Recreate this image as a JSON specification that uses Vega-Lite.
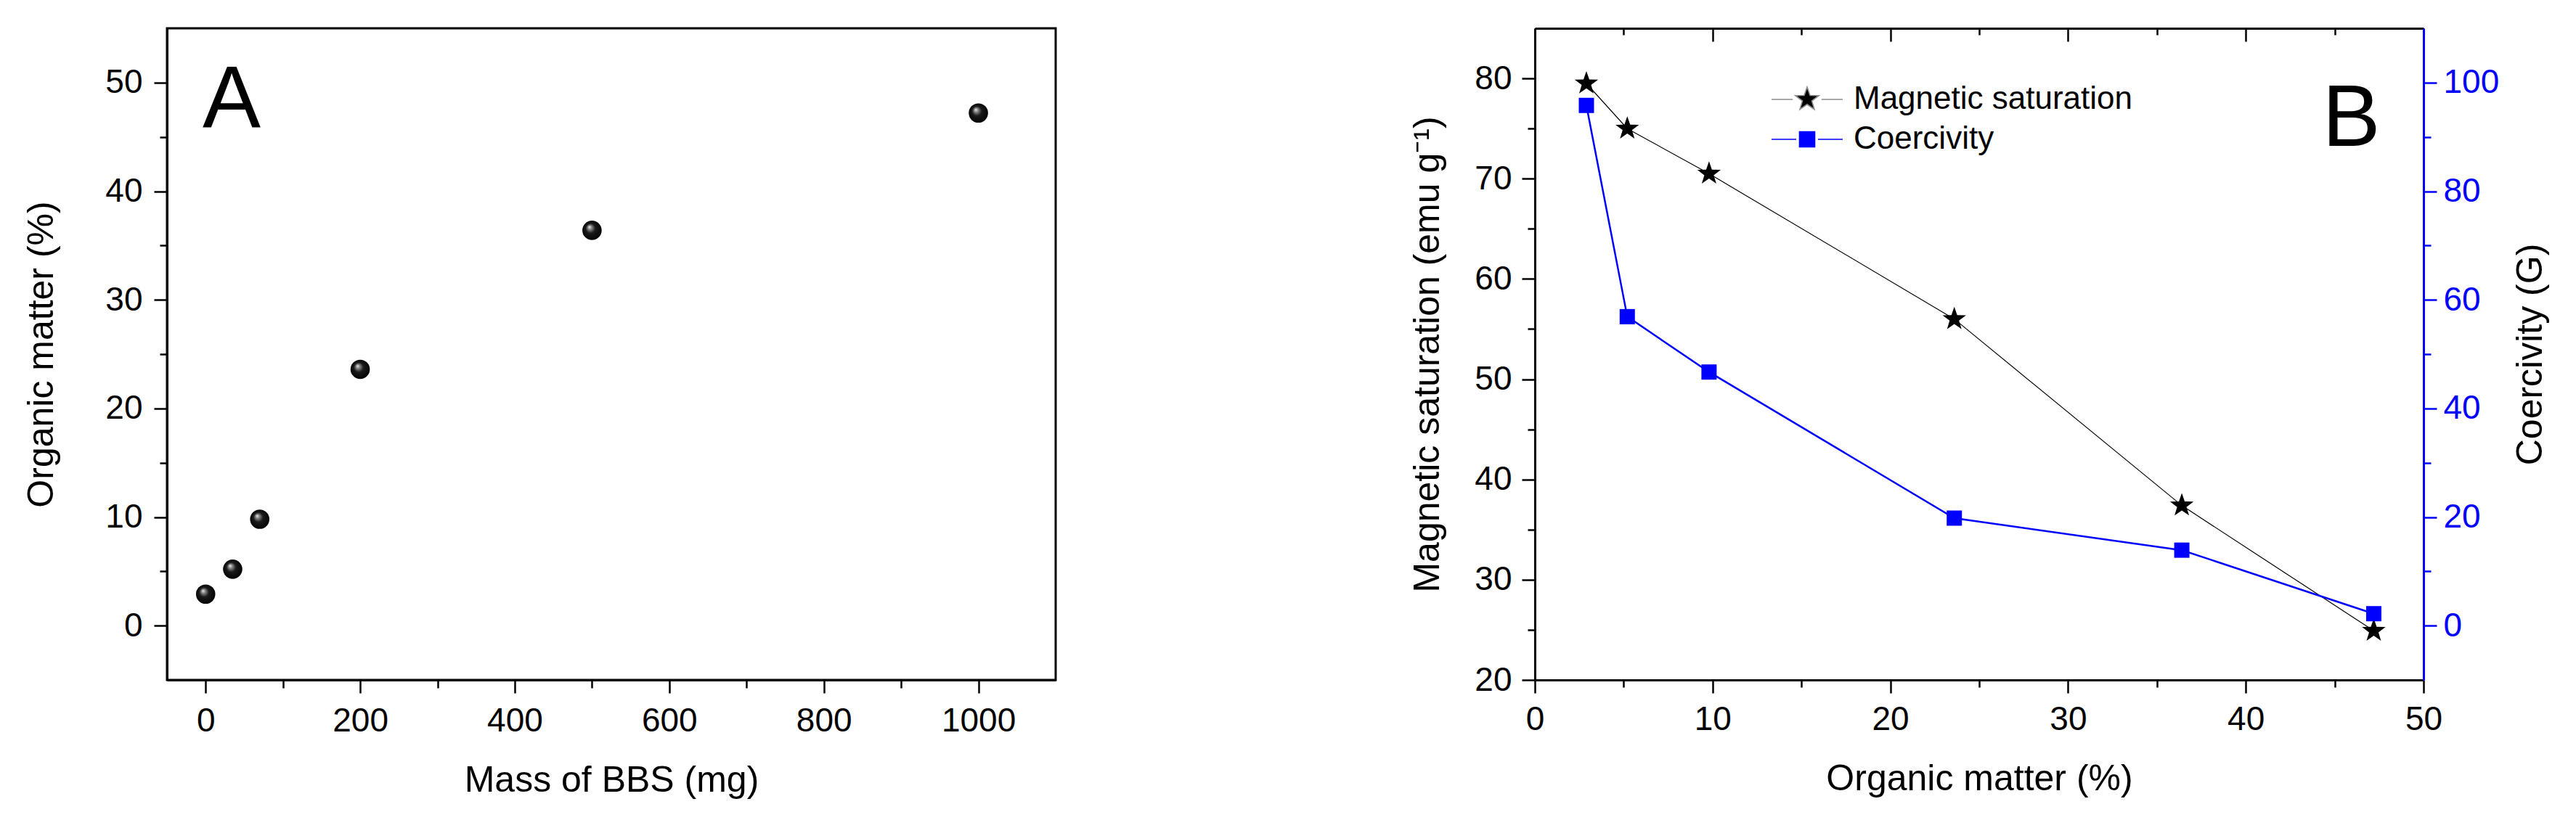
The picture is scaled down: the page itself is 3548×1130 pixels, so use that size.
{
  "$schema": "https://vega.github.io/schema/vega-lite/v6.json",
  "background": "#ffffff",
  "padding": {"left": 31, "top": 37, "right": 10, "bottom": 10},
  "bounds": "flush",
  "spacing": 660,
  "datasets": {
    "a": [
      {"mass": 0, "om": 2.9},
      {"mass": 35, "om": 5.2},
      {"mass": 70, "om": 9.8},
      {"mass": 200, "om": 23.6},
      {"mass": 500, "om": 36.4},
      {"mass": 1000, "om": 47.2}
    ],
    "b": [
      {"om": 2.9, "ms": 79.5, "hc": 95.8},
      {"om": 5.2, "ms": 75.0, "hc": 56.9},
      {"om": 9.8, "ms": 70.5, "hc": 46.7},
      {"om": 23.6, "ms": 56.0, "hc": 19.8},
      {"om": 36.4, "ms": 37.4, "hc": 13.9},
      {"om": 47.2, "ms": 24.9, "hc": 2.2}
    ],
    "legend": [{"series": "Magnetic saturation"}, {"series": "Coercivity"}],
    "labA": [{"label": "A"}],
    "labB": [{"label": "B"}]
  },
  "hconcat": [
    {
      "width": 1224,
      "height": 898,
      "layer": [
        {
          "data": {"name": "a"},
          "mark": {
            "type": "point", "shape": "circle", "size": 707, "filled": true, "opacity": 1,
            "fill": {"gradient": "radial", "x1": 0.36, "y1": 0.32, "r1": 0, "x2": 0.5, "y2": 0.5, "r2": 0.55,
              "stops": [{"offset": 0, "color": "#f0f0f0"}, {"offset": 0.18, "color": "#8a8a8a"}, {"offset": 0.45, "color": "#1a1a1a"}, {"offset": 1, "color": "#000000"}]}
          },
          "encoding": {
            "x": {"field": "mass", "type": "quantitative",
              "scale": {"domain": [-50, 1100], "nice": false, "zero": false},
              "axis": {"title": "Mass of BBS (mg)", "format": "d", "values": [0,100,200,300,400,500,600,700,800,900,1000],
                "labelExpr": "datum.value % 200 === 0 ? datum.label : ''",
                "tickSize": {"condition": {"test": "datum.value % 200 === 0", "value": 18}, "value": 11},
                "labelPadding": 16, "titlePadding": 34}},
            "y": {"field": "om", "type": "quantitative",
              "scale": {"domain": [-5, 55], "nice": false, "zero": false},
              "axis": {"title": "Organic matter (%)", "values": [0,5,10,15,20,25,30,35,40,45,50],
                "labelExpr": "datum.value % 10 === 0 ? datum.label : ''",
                "tickSize": {"condition": {"test": "datum.value % 10 === 0", "value": 18}, "value": 10},
                "labelPadding": 16, "titlePadding": 62}}
          }
        },
        {
          "data": {"name": "labA"},
          "mark": {"type": "text", "fontSize": 120, "align": "left", "baseline": "alphabetic", "color": "#000"},
          "encoding": {
            "x": {"datum": -4},
            "y": {"datum": 45.9},
            "text": {"field": "label", "type": "nominal"}
          }
        }
      ]
    },
    {
      "width": 1224,
      "height": 898,
      "view": {"stroke": null},
      "layer": [
        {
          "layer": [
            {
              "data": {"name": "b"},
              "mark": {"type": "line", "color": "#000000", "strokeWidth": 1.2},
              "encoding": {
                "x": {"field": "om", "type": "quantitative",
                  "scale": {"domain": [0, 50], "nice": false, "zero": false},
                  "axis": {"title": "Organic matter (%)", "orient": "bottom",
                    "values": [0,5,10,15,20,25,30,35,40,45,50],
                    "labelExpr": "datum.value % 10 === 0 ? datum.label : ''",
                    "tickSize": {"condition": {"test": "datum.value % 10 === 0", "value": 18}, "value": 10},
                    "labelPadding": 14, "titlePadding": 34}},
                "y": {"field": "ms", "type": "quantitative",
                  "scale": {"domain": [20, 85], "nice": false, "zero": false},
                  "axis": {"title": "Magnetic saturation (emu g⁻¹)", "orient": "left",
                    "values": [20,25,30,35,40,45,50,55,60,65,70,75,80],
                    "labelExpr": "datum.value % 10 === 0 ? datum.label : ''",
                    "tickSize": {"condition": {"test": "datum.value % 10 === 0", "value": 18}, "value": 10},
                    "labelPadding": 14, "titlePadding": 39}}
              }
            },
            {
              "data": {"name": "b"},
              "mark": {"type": "point", "shape": "M0,-1L0.235,-0.324L0.951,-0.309L0.38,0.124L0.588,0.809L0,0.4L-0.588,0.809L-0.38,0.124L-0.951,-0.309L-0.235,-0.324Z", "size": 1156, "filled": true, "color": "#000000", "opacity": 1},
              "encoding": {
                "x": {"field": "om", "type": "quantitative"},
                "y": {"field": "ms", "type": "quantitative"}
              }
            },
            {
              "data": {"name": "labB"},
              "mark": {"type": "text", "fontSize": 120, "align": "left", "baseline": "alphabetic", "color": "#000"},
              "encoding": {
                "x": {"datum": 44.3},
                "y": {"datum": 73.3},
                "text": {"field": "label", "type": "nominal"}
              }
            },
            {
              "data": {"name": "legend"},
              "mark": {"type": "point", "filled": true, "opacity": 0},
              "encoding": {
                "fill": {"field": "series", "type": "nominal",
                  "scale": {"domain": ["Magnetic saturation", "Coercivity"], "range": ["#000000", "#0000ff"]},
                  "legend": {"orient": "none", "legendX": 2231, "legendY": 70, "title": null, "symbolSize": 2862, "rowPadding": 5, "padding": 0, "labelFontSize": 44, "labelOffset": 36, "labelLimit": 0, "symbolOpacity": 1, "symbolStrokeWidth": 1.6, "labelColor": "#000"}},
                "stroke": {"field": "series", "type": "nominal",
                  "scale": {"domain": ["Magnetic saturation", "Coercivity"], "range": ["#8c8c8c", "#0000ff"]},
                  "legend": {"orient": "none", "legendX": 2231, "legendY": 70, "title": null, "symbolSize": 2862, "rowPadding": 5, "padding": 0, "labelFontSize": 44, "labelOffset": 36, "labelLimit": 0, "symbolOpacity": 1, "symbolStrokeWidth": 1.6, "labelColor": "#000"}},
                "shape": {"field": "series", "type": "nominal",
                  "scale": {"domain": ["Magnetic saturation", "Coercivity"],
                    "range": ["M0,-0.636L0.15,-0.206L0.605,-0.197L0.242,0.079L0.374,0.515L0,0.254L-0.374,0.515L-0.242,0.079L-0.605,-0.197L-0.15,-0.206ZM-1.83,0L-0.74,0M0.74,0L1.83,0",
                              "M-0.393,-0.393L0.393,-0.393L0.393,0.393L-0.393,0.393ZM-1.83,0L-0.56,0M0.56,0L1.83,0"]},
                  "legend": {"orient": "none", "legendX": 2231, "legendY": 70, "title": null, "symbolSize": 2862, "rowPadding": 5, "padding": 0, "labelFontSize": 44, "labelOffset": 36, "labelLimit": 0, "symbolOpacity": 1, "symbolStrokeWidth": 1.6, "labelColor": "#000"}}
              }
            }
          ]
        },
        {
          "layer": [
            {
              "data": {"name": "b"},
              "mark": {"type": "line", "color": "#0000ff", "strokeWidth": 2.5},
              "encoding": {
                "x": {"field": "om", "type": "quantitative",
                  "axis": {"title": null, "orient": "top", "labels": false,
                    "values": [0,5,10,15,20,25,30,35,40,45,50],
                    "tickSize": {"condition": {"test": "datum.value % 10 === 0", "value": -18}, "value": -9}}},
                "y": {"field": "hc", "type": "quantitative",
                  "scale": {"domain": [-10, 110], "nice": false, "zero": false},
                  "axis": {"title": "Coercivity (G)", "orient": "right",
                    "values": [0,10,20,30,40,50,60,70,80,90,100],
                    "labelExpr": "datum.value % 20 === 0 ? datum.label : ''",
                    "tickSize": {"condition": {"test": "datum.value % 20 === 0", "value": 18}, "value": 10},
                    "domainColor": "#0000ff", "tickColor": "#0000ff", "labelColor": "#0000ff",
                    "labelPadding": 9, "titlePadding": 19, "titleAngle": 270, "titleBaseline": "top"}}
              }
            },
            {
              "data": {"name": "b"},
              "mark": {"type": "point", "shape": "square", "size": 441, "filled": true, "color": "#0000ff", "opacity": 1},
              "encoding": {
                "x": {"field": "om", "type": "quantitative"},
                "y": {"field": "hc", "type": "quantitative"}
              }
            }
          ]
        }
      ],
      "resolve": {"scale": {"y": "independent"}, "axis": {"x": "independent", "y": "independent"}}
    }
  ],
  "config": {
    "font": "Liberation Sans",
    "view": {"stroke": "#000000", "strokeWidth": 3},
    "axis": {
      "grid": false,
      "domainColor": "#000000", "domainWidth": 3,
      "tickColor": "#000000", "tickWidth": 2.5,
      "labelColor": "#000000", "labelFontSize": 46, "labelFont": "Liberation Sans",
      "titleFont": "Liberation Sans", "titleFontSize": 50, "titleFontWeight": "normal", "titleColor": "#000000",
      "labelFlush": false, "labelOverlap": false, "labelBound": false
    },
    "legend": {"labelFont": "Liberation Sans"}
  }
}
